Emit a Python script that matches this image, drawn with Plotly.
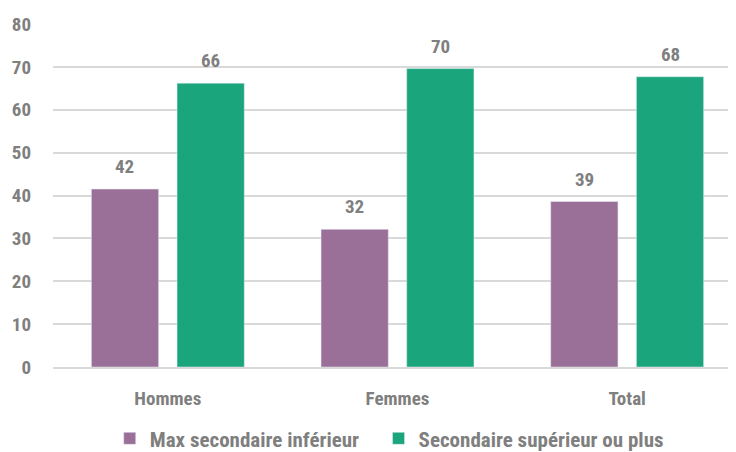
import plotly.graph_objects as go

categories = ["Hommes", "Femmes", "Total"]
max_sec_inf = [41.5, 32.1, 38.6]
sec_sup_plus = [66.2, 69.6, 67.7]
labels_inf = ["42", "32", "39"]
labels_sup = ["66", "70", "68"]
series_names = ["Max secondaire inférieur", "Secondaire supérieur ou plus"]
colors = ["#9a6f98", "#1aa57d"]

FONT = "Liberation Sans Narrow, Roboto Condensed, Arial Narrow, sans-serif"
GRAY = "#7f7f7f"

fig = go.Figure()
for i, (name, vals, col) in enumerate(zip(series_names, [max_sec_inf, sec_sup_plus], colors)):
    pad = "\u00a0" * 3 if i == 0 else ""
    fig.add_trace(go.Bar(x=categories, y=vals, name=name + pad, marker=dict(color=col)))

# value labels above bars
for vals, labs, shift in [(max_sec_inf, labels_inf, -42.9), (sec_sup_plus, labels_sup, 42.9)]:
    for c, v, t in zip(categories, vals, labs):
        fig.add_annotation(x=c, y=v, text=t, showarrow=False, xshift=shift, yshift=9,
                           yanchor="bottom",
                           font=dict(family=FONT, size=19, color=GRAY, weight="bold"))

fig.update_layout(
    width=736, height=452,
    margin=dict(l=45, r=2, t=16, b=93, autoexpand=False),
    plot_bgcolor="white", paper_bgcolor="white",
    barmode="group", bargap=0.254, bargroupgap=0.215,
    font=dict(family=FONT, color=GRAY, size=19),
    showlegend=True,
    legend=dict(orientation="h", x=0.488, xanchor="center", y=-0.209, yanchor="middle",
                font=dict(family=FONT, size=21, color=GRAY, weight="bold"),
                itemwidth=30, traceorder="normal"),
)
fig.update_xaxes(showgrid=False, showline=True, linecolor="#d9d9d9", linewidth=1.5,
                 tickfont=dict(family=FONT, size=19, color=GRAY, weight="bold"),
                 ticks="", ticklabelstandoff=13)
fig.update_yaxes(range=[0, 80], dtick=10, showgrid=True, gridcolor="#d9d9d9", gridwidth=1.5,
                 zeroline=False, showline=False,
                 tickfont=dict(family=FONT, size=19, color=GRAY, weight="bold"),
                 ticklabelstandoff=21)

fig.write_html("out.html")
